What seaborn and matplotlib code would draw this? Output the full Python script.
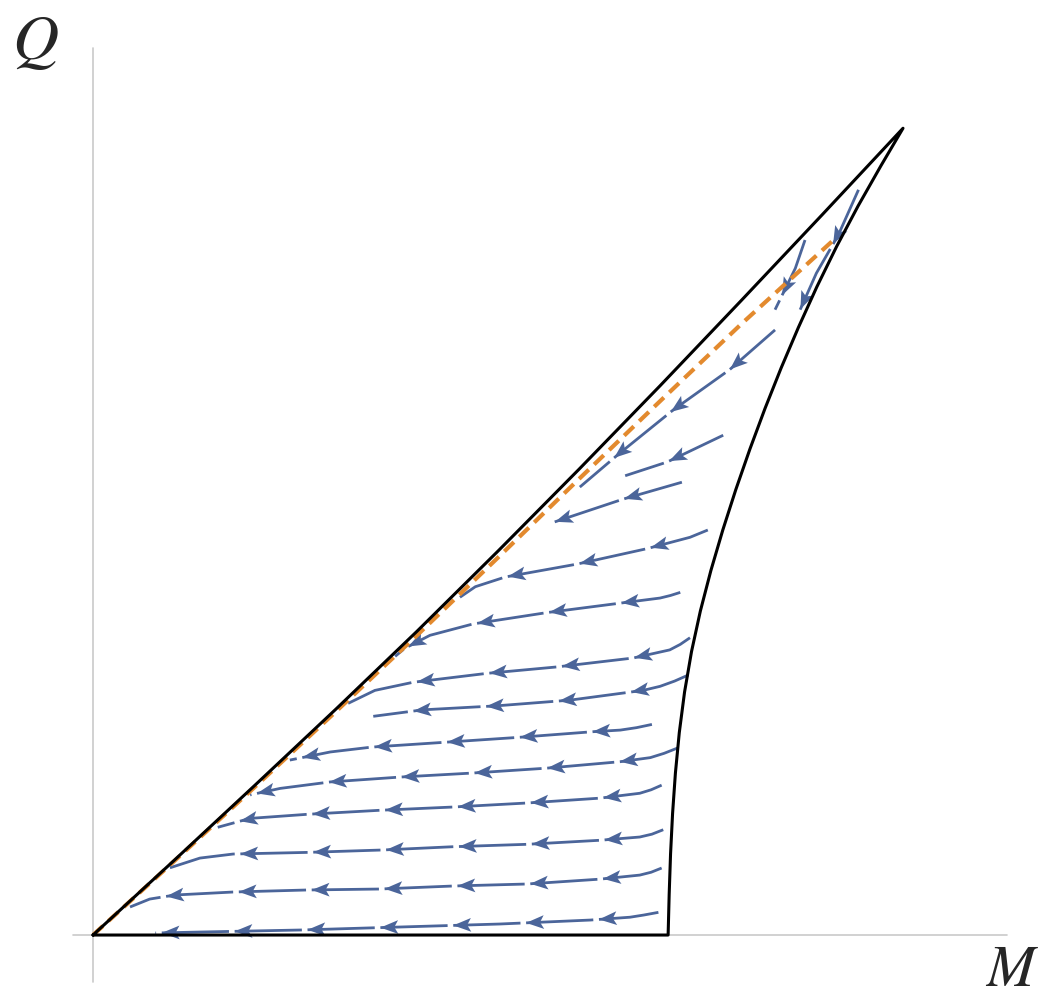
import numpy as np
import matplotlib
matplotlib.use("Agg")
import matplotlib.pyplot as plt
import seaborn as sns

# ---------------- data (M, Q) ----------------
# left (extremal) boundary
LEFT_M = [0.0, 0.1, 0.2, 0.3, 0.4, 0.5, 0.6, 0.7, 0.8, 0.9, 1.0]
LEFT_Q = [0.0, 0.092, 0.185, 0.279, 0.375, 0.474, 0.575, 0.678, 0.783, 0.889, 0.996]
# right boundary
RIGHT_Q = [0.0, 0.05, 0.1, 0.15, 0.2, 0.25, 0.3, 0.35, 0.4, 0.45, 0.5, 0.55,
           0.6, 0.65, 0.7, 0.75, 0.8, 0.85, 0.9, 0.95, 0.996]
RIGHT_M = [0.710, 0.7113, 0.713, 0.7155, 0.719, 0.7238, 0.7303, 0.7389, 0.7498,
           0.7628, 0.7775, 0.7936, 0.811, 0.8296, 0.8495, 0.8708, 0.8935, 0.918,
           0.9445, 0.9729, 1.0]
# orange dashed curve
ORANGE_M = [0.0, 0.1, 0.2, 0.3, 0.4, 0.5, 0.6, 0.7, 0.8, 0.912]
ORANGE_Q = [0.0, 0.091, 0.183, 0.276, 0.370, 0.466, 0.563, 0.659, 0.754, 0.856]

# streamlines (flow from first point to last point)
STREAMS = [
    ([0.698, 0.680, 0.663, 0.614, 0.502, 0.379, 0.256, 0.132, 0.077],
     [0.028, 0.0247, 0.022, 0.0185, 0.0136, 0.0099, 0.0062, 0.0037, 0.0025]),
    ([0.702, 0.689, 0.675, 0.626, 0.536, 0.444, 0.354, 0.264, 0.173, 0.101, 0.070, 0.0457],
     [0.0827, 0.0775, 0.074, 0.069, 0.063, 0.0605, 0.0568, 0.0556, 0.0531, 0.0494, 0.0444, 0.0346]),
    ([0.704, 0.690, 0.675, 0.626, 0.536, 0.444, 0.358, 0.264, 0.173, 0.132, 0.095],
     [0.130, 0.1245, 0.121, 0.117, 0.112, 0.109, 0.105, 0.102, 0.100, 0.095, 0.083]),
    ([0.702, 0.689, 0.675, 0.626, 0.536, 0.444, 0.354, 0.264, 0.194, 0.154],
     [0.185, 0.1793, 0.175, 0.169, 0.163, 0.158, 0.154, 0.149, 0.144, 0.133]),
    ([0.722, 0.705, 0.688, 0.651, 0.560, 0.469, 0.379, 0.293, 0.231, 0.194],
     [0.231, 0.2243, 0.219, 0.214, 0.206, 0.200, 0.195, 0.189, 0.181, 0.173]),
    ([0.690, 0.671, 0.651, 0.617, 0.525, 0.435, 0.344, 0.293, 0.243],
     [0.260, 0.2560, 0.253, 0.251, 0.244, 0.238, 0.232, 0.226, 0.216]),
    ([0.735, 0.718, 0.700, 0.679, 0.589, 0.499, 0.407, 0.346],
     [0.321, 0.3135, 0.307, 0.302, 0.290, 0.283, 0.278, 0.270]),
    ([0.737, 0.725, 0.712, 0.667, 0.573, 0.486, 0.395, 0.348, 0.315],
     [0.367, 0.3588, 0.352, 0.342, 0.331, 0.323, 0.312, 0.302, 0.286]),
    ([0.725, 0.713, 0.700, 0.653, 0.560, 0.469, 0.416, 0.385, 0.373],
     [0.423, 0.4192, 0.416, 0.410, 0.398, 0.384, 0.370, 0.354, 0.344]),
    ([0.759, 0.737, 0.684, 0.598, 0.509, 0.472, 0.453],
     [0.500, 0.491, 0.477, 0.458, 0.442, 0.430, 0.417]),
    ([0.727, 0.654, 0.570],
     [0.559, 0.538, 0.510]),
    ([0.778, 0.709, 0.657],
     [0.617, 0.584, 0.567]),
    ([0.842, 0.786, 0.716, 0.648, 0.601],
     [0.747, 0.698, 0.648, 0.593, 0.553]),
    ([0.879, 0.867, 0.842],
     [0.858, 0.823, 0.772]),
    ([0.945, 0.920, 0.893, 0.873],
     [0.920, 0.864, 0.817, 0.772]),
]

X_LABEL = "$M$"
Y_LABEL = "$Q$"

# ---------------- style ----------------
sns.set_theme(style="white")
plt.rcParams["mathtext.fontset"] = "stix"
plt.rcParams["font.family"] = ["DejaVu Serif"]

STREAM_COLOR = "#4b659a"
ORANGE = "#e38a2e"
AXIS_GRAY = "#c9c9c9"

fig = plt.figure(figsize=(10.49, 9.97), dpi=100)
ax = fig.add_axes([0, 0, 1, 1])
ax.set_xlim(-0.1148, 1.1802)
ax.set_ylim(-0.0765, 1.1543)
ax.axis("off")

# axes lines
ax.plot([-0.025, 1.128], [0, 0], color=AXIS_GRAY, lw=1.2, zorder=1)
ax.plot([0, 0], [-0.058, 1.095], color=AXIS_GRAY, lw=1.2, zorder=1)

# region boundary
outline_M = list(LEFT_M) + list(RIGHT_M[::-1]) + [LEFT_M[0]]
outline_Q = list(LEFT_Q) + list(RIGHT_Q[::-1]) + [LEFT_Q[0]]
sns.lineplot(x=outline_M, y=outline_Q, sort=False, estimator=None,
             color="black", lw=2.2, ax=ax, zorder=4)
ax.lines[-1].set_solid_joinstyle("round")

# orange dashed
sns.lineplot(x=ORANGE_M, y=ORANGE_Q, sort=False, estimator=None,
             color=ORANGE, lw=3.0, ax=ax, zorder=3)
ax.lines[-1].set_dashes([3.2, 1.8])

# streamlines with arrowheads
FIRST = 0.074
SPACING = 0.09
HL = 0.022
HW = 0.0085
GAP = 0.007


def point_at(s_arr, Ms, Qs, s):
    return np.interp(s, s_arr, Ms), np.interp(s, s_arr, Qs)


for Ms, Qs in STREAMS:
    Ms = np.asarray(Ms, float)
    Qs = np.asarray(Qs, float)
    d = np.hypot(np.diff(Ms), np.diff(Qs))
    s_arr = np.concatenate([[0], np.cumsum(d)])
    total = s_arr[-1]
    arrows = []
    sa = FIRST if total > FIRST * 0.9 else total * 0.8
    while sa <= total + 1e-9:
        arrows.append(min(sa, total))
        sa += SPACING
    # line pieces with small gap ahead of each arrow tip
    cuts = [0.0]
    for a in arrows:
        if a + GAP < total:
            cuts += [a, a + GAP]
    cuts.append(total)
    for i in range(0, len(cuts), 2):
        s0, s1 = cuts[i], cuts[i + 1]
        sel = (s_arr > s0) & (s_arr < s1)
        ss = np.concatenate([[s0], s_arr[sel], [s1]])
        xm, yq = point_at(s_arr, Ms, Qs, ss)
        ax.plot(xm, yq, color=STREAM_COLOR, lw=2.0, solid_capstyle="butt",
                solid_joinstyle="round", zorder=2)
    for a in arrows:
        tx, ty = point_at(s_arr, Ms, Qs, a)
        bx, by = point_at(s_arr, Ms, Qs, max(a - HL, 0))
        v = np.array([tx - bx, ty - by])
        n = np.linalg.norm(v)
        if n == 0:
            continue
        v /= n
        nrm = np.array([-v[1], v[0]])
        base = np.array([tx, ty]) - HL * v
        notch = np.array([tx, ty]) - 0.78 * HL * v
        tri = np.array([[tx, ty], base + HW * nrm, notch, base - HW * nrm])
        ax.fill(tri[:, 0], tri[:, 1], color=STREAM_COLOR, lw=0, zorder=2.5)

# axis labels
ax.text(-0.0716, 1.1025, Y_LABEL, fontsize=46, ha="center", va="center")
ax.text(1.134, -0.0432, X_LABEL, fontsize=42, ha="center", va="center")

fig.savefig("out.png", dpi=100)
